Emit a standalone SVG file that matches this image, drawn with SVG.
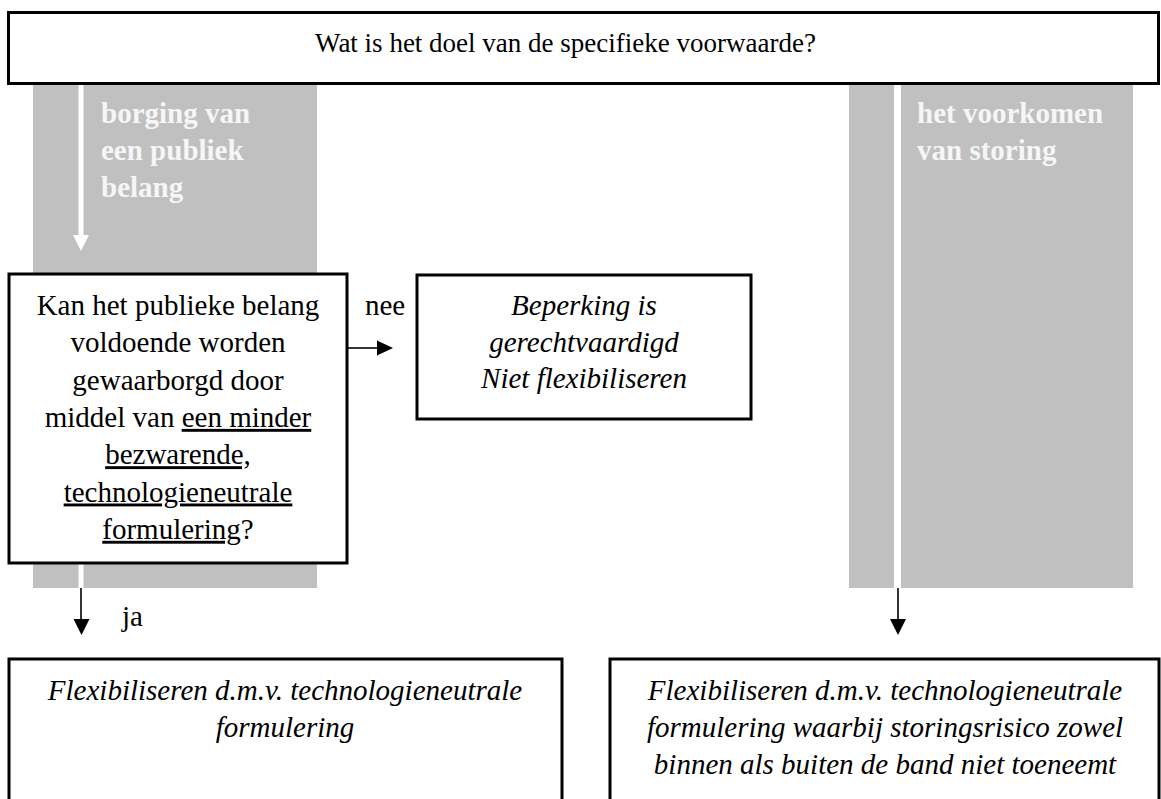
<svg xmlns="http://www.w3.org/2000/svg" width="1161" height="799" viewBox="0 0 1161 799">
  <style>
    .box { fill: #ffffff; stroke: #000000; stroke-width: 3; }
    .band { fill: #c0c0c0; }
    .txt { font-family: "Liberation Serif", "Times New Roman", serif; font-size: 29px; fill: #000000; }
    .it { font-style: italic; }
    .mid { text-anchor: middle; }
    .lane { font-family: "Liberation Serif", "Times New Roman", serif; font-size: 29px; font-weight: bold; fill: #f6f6f6; }
    .ul { text-decoration: underline; }
    .wire { stroke: #000000; stroke-width: 1.6; fill: none; }
    .wwire { stroke: #ffffff; stroke-width: 5; fill: none; }
  </style>
  <defs>
    <marker id="head" markerWidth="10" markerHeight="10" refX="10" refY="5" orient="auto" markerUnits="userSpaceOnUse" viewBox="0 0 10 10">
      <path d="M0,0 L10,5 L0,10 Z" fill="#000000"/>
    </marker>
  </defs>
  <rect width="1161" height="799" fill="#ffffff"/>

  <!-- grey lanes behind the flow -->
  <g id="lane-public">
    <rect class="band" x="33" y="84" width="284" height="504"/>
    <text class="lane" x="101" y="123">borging van</text>
    <text class="lane" x="101" y="160">een publiek</text>
    <text class="lane" x="101" y="197">belang</text>
  </g>
  <g id="lane-storing">
    <rect class="band" x="849" y="84" width="284" height="504"/>
    <text class="lane" x="917" y="123">het voorkomen</text>
    <text class="lane" x="917" y="160">van storing</text>
  </g>

  <g id="connectors">
    <!-- white runs inside the lanes -->
    <line class="wwire" x1="81" y1="84" x2="81" y2="236"/>
    <path d="M73,235 L89,235 L81,251 Z" fill="#ffffff"/>
    <line class="wwire" x1="81" y1="563" x2="81" y2="588"/>
    <line x1="897.5" y1="84" x2="897.5" y2="588" stroke="#ffffff" stroke-width="7"/>
    <!-- black arrows -->
    <line class="wire" x1="81" y1="588" x2="81" y2="621"/>
    <path d="M73.5,619 L89.5,619 L81.5,635 Z" fill="#000000"/>
    <line class="wire" x1="898" y1="588" x2="898" y2="621"/>
    <path d="M890,619 L906,619 L898,635 Z" fill="#000000"/>
    <line class="wire" x1="347" y1="348" x2="379" y2="348"/>
    <path d="M377,340.5 L393,348 L377,355.5 Z" fill="#000000"/>
    <text class="txt" x="365" y="315">nee</text>
    <text class="txt" x="122" y="626">ja</text>
  </g>

  <g id="node-doel">
    <rect class="box" x="8.5" y="12.5" width="1150" height="71"/>
    <text class="txt mid" x="565.5" y="52" style="font-size:27px">Wat is het doel van de specifieke voorwaarde?</text>
  </g>

  <g id="node-vraag">
    <rect class="box" x="9" y="274" width="338" height="289"/>
    <text class="txt mid" x="178" y="315">Kan het publieke belang</text>
    <text class="txt mid" x="178" y="352.3">voldoende worden</text>
    <text class="txt mid" x="178" y="389.6">gewaarborgd door</text>
    <text class="txt mid" x="178" y="426.9">middel van <tspan class="ul">een minder</tspan></text>
    <text class="txt mid" x="178" y="464.2"><tspan class="ul">bezwarende,</tspan></text>
    <text class="txt mid" x="178" y="501.5"><tspan class="ul">technologieneutrale</tspan></text>
    <text class="txt mid" x="178" y="538.8"><tspan class="ul">formulering</tspan>?</text>
  </g>

  <g id="node-beperking">
    <rect class="box" x="417" y="275" width="334" height="144"/>
    <text class="txt it mid" x="584" y="315">Beperking is</text>
    <text class="txt it mid" x="584" y="352">gerechtvaardigd</text>
    <text class="txt it mid" x="584" y="388">Niet flexibiliseren</text>
  </g>

  <g id="node-flex">
    <rect class="box" x="9" y="659" width="553" height="170"/>
    <text class="txt it mid" x="285" y="700">Flexibiliseren d.m.v. technologieneutrale</text>
    <text class="txt it mid" x="285" y="737">formulering</text>
  </g>

  <g id="node-flex-storing">
    <rect class="box" x="610" y="659" width="549" height="170"/>
    <text class="txt it mid" x="885" y="700">Flexibiliseren d.m.v. technologieneutrale</text>
    <text class="txt it mid" x="885" y="737">formulering waarbij storingsrisico zowel</text>
    <text class="txt it mid" x="885" y="774">binnen als buiten de band niet toeneemt</text>
  </g>
</svg>
